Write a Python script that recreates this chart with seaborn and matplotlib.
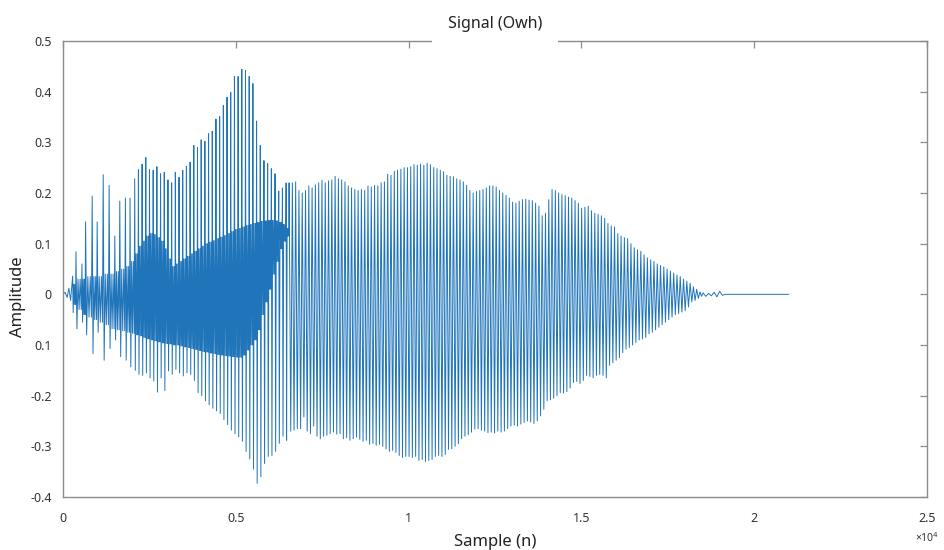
import numpy as np
import pandas as pd
import matplotlib
matplotlib.use("Agg")
import matplotlib.pyplot as plt
import seaborn as sns

# ---------------- data ----------------
# onset: tiny wiggles before the voice starts (sample index, amplitude)
onset_n = [0, 60, 120, 170, 220]
onset_v = [0.0, 0.004, -0.006, 0.012, -0.012]

# segment A: irregular early pitch periods (sample index of each period)
A_n = [279, 375, 548, 653, 845, 989, 1163, 1335, 1499, 1643, 1806, 1940]
A_top = [0.036, 0.084, 0.06, 0.143, 0.194, 0.143, 0.236, 0.215, 0.115, 0.184, 0.19, 0.19]
A_bot = [-0.036, -0.068, -0.055, -0.08, -0.117, -0.075, -0.13, -0.107, -0.09, -0.123, -0.13, -0.143]
A_hi = [0.02, 0.03, 0.03, 0.035, 0.035, 0.035, 0.04, 0.04, 0.045, 0.05, 0.055, 0.065]
A_lo = [-0.02, -0.03, -0.04, -0.045, -0.05, -0.055, -0.06, -0.068, -0.07, -0.072, -0.075, -0.077]

# segment B: periods from sample 2075 to 6456
B_start, B_end = 2075, 6456
B_top = [0.228, 0.246, 0.257, 0.27, 0.246, 0.245, 0.252, 0.238, 0.241, 0.226,
         0.22, 0.241, 0.231, 0.245, 0.253, 0.261, 0.294, 0.29, 0.305, 0.302,
         0.317, 0.322, 0.346, 0.351, 0.373, 0.389, 0.399, 0.43, 0.43, 0.444,
         0.442, 0.43, 0.416, 0.342, 0.294, 0.264, 0.258, 0.248, 0.238, 0.204,
         0.21, 0.22]
B_bot = [-0.15, -0.158, -0.16, -0.155, -0.165, -0.171, -0.193, -0.165, -0.19, -0.151,
         -0.158, -0.148, -0.155, -0.161, -0.155, -0.158, -0.17, -0.194, -0.2, -0.21,
         -0.218, -0.225, -0.23, -0.235, -0.247, -0.257, -0.268, -0.275, -0.281, -0.29,
         -0.31, -0.325, -0.345, -0.373, -0.36, -0.334, -0.32, -0.318, -0.31, -0.294,
         -0.28, -0.288]
B_hi = [0.08, 0.095, 0.105, 0.115, 0.12, 0.118, 0.112, 0.105, 0.09, 0.07,
        0.055, 0.06, 0.065, 0.07, 0.075, 0.08, 0.085, 0.09, 0.095, 0.1,
        0.103, 0.106, 0.11, 0.113, 0.116, 0.12, 0.124, 0.128, 0.13, 0.133,
        0.136, 0.138, 0.14, 0.142, 0.144, 0.145, 0.146, 0.146, 0.145, 0.142,
        0.138, 0.13]
B_lo = [-0.08, -0.082, -0.085, -0.088, -0.09, -0.092, -0.094, -0.096, -0.097, -0.098,
        -0.1, -0.1, -0.102, -0.104, -0.105, -0.107, -0.109, -0.111, -0.113, -0.114,
        -0.116, -0.117, -0.119, -0.12, -0.121, -0.122, -0.123, -0.124, -0.124, -0.12,
        -0.11, -0.1, -0.09, -0.07, -0.04, -0.015, 0.01, 0.04, 0.065, 0.09,
        0.105, 0.115]

# segment C: periods from sample 6542 to 18431
C_start, C_end = 6542, 18431
C_top = [0.22, 0.22, 0.222, 0.205, 0.2, 0.205, 0.214, 0.21, 0.216, 0.22,
         0.225, 0.22, 0.224, 0.226, 0.233, 0.228, 0.226, 0.222, 0.214, 0.21,
         0.207, 0.205, 0.207, 0.205, 0.214, 0.212, 0.215, 0.214, 0.22, 0.222,
         0.237, 0.235, 0.243, 0.245, 0.247, 0.25, 0.25, 0.252, 0.256, 0.255,
         0.257, 0.255, 0.259, 0.256, 0.25, 0.248, 0.245, 0.242, 0.235, 0.233,
         0.232, 0.228, 0.226, 0.222, 0.215, 0.205, 0.2, 0.203, 0.205, 0.207,
         0.21, 0.214, 0.214, 0.212, 0.205, 0.2, 0.195, 0.19, 0.182, 0.18,
         0.184, 0.187, 0.188, 0.186, 0.185, 0.18, 0.174, 0.155, 0.16, 0.187,
         0.207, 0.205, 0.2, 0.197, 0.195, 0.192, 0.19, 0.185, 0.18, 0.17,
         0.172, 0.174, 0.165, 0.16, 0.158, 0.155, 0.15, 0.14, 0.135, 0.133,
         0.12, 0.115, 0.112, 0.11, 0.1, 0.092, 0.088, 0.085, 0.078, 0.072,
         0.068, 0.065, 0.06, 0.057, 0.054, 0.05, 0.046, 0.042, 0.038, 0.035,
         0.03, 0.026, 0.022, 0.015, 0.01, 0.005]
C_bot = [-0.27, -0.268, -0.265, -0.265, -0.242, -0.27, -0.275, -0.26, -0.28, -0.285,
         -0.28, -0.278, -0.275, -0.272, -0.276, -0.275, -0.285, -0.283, -0.288, -0.285,
         -0.282, -0.286, -0.29, -0.288, -0.296, -0.294, -0.298, -0.296, -0.3, -0.305,
         -0.31, -0.308, -0.312, -0.318, -0.322, -0.32, -0.32, -0.322, -0.32, -0.328,
         -0.326, -0.33, -0.328, -0.326, -0.32, -0.318, -0.32, -0.316, -0.306, -0.305,
         -0.3, -0.295, -0.285, -0.28, -0.277, -0.272, -0.266, -0.265, -0.268, -0.27,
         -0.273, -0.272, -0.274, -0.27, -0.272, -0.27, -0.265, -0.26, -0.258, -0.26,
         -0.256, -0.253, -0.25, -0.252, -0.255, -0.25, -0.24, -0.227, -0.21, -0.208,
         -0.205, -0.2, -0.194, -0.195, -0.192, -0.185, -0.174, -0.172, -0.176, -0.17,
         -0.16, -0.162, -0.165, -0.16, -0.158, -0.16, -0.165, -0.14, -0.135, -0.13,
         -0.125, -0.115, -0.108, -0.105, -0.1, -0.095, -0.09, -0.088, -0.085, -0.078,
         -0.075, -0.07, -0.065, -0.06, -0.055, -0.05, -0.045, -0.04, -0.038, -0.035,
         -0.032, -0.025, -0.015, -0.012, -0.008, -0.004]

# decay tail and silence
tail_n = [18520, 18600, 18680, 18760, 18840, 18920, 19000, 19080, 19160, 21000]
tail_v = [0.003, -0.004, 0.002, -0.003, 0.004, -0.005, 0.006, -0.002, 0.0, 0.0]

y_ticks = [0.5, 0.4, 0.3, 0.2, 0.1, 0.0, -0.1, -0.2, -0.3, -0.4]
y_tick_labels = ["0.5", "0.4", "0.3", "0.2", "0.1", "0", "0.1", "-0.2", "-0.3", "-0.4"]
x_ticks = [0, 5000, 10000, 15000, 20000, 25000]
x_tick_labels = ["0", "0.5", "1", "1.5", "2", "2.5"]

# ---------------- build the waveform path ----------------
assert len(B_top) == len(B_bot) == len(B_hi) == len(B_lo)
assert len(C_top) == len(C_bot)

AB_n = list(A_n) + list(np.linspace(B_start, B_end, len(B_top)))
AB_top = A_top + B_top
AB_bot = A_bot + B_bot
AB_hi = A_hi + B_hi
AB_lo = A_lo + B_lo
C_n = list(np.linspace(C_start, C_end, len(C_top)))

xs = list(onset_n)
ys = list(onset_v)
inner_frac = [0.34, 0.52, 0.70, 0.88]
for i in range(len(AB_n)):
    n0 = AB_n[i]
    n1 = AB_n[i + 1] if i + 1 < len(AB_n) else C_n[0]
    d = n1 - n0
    xs += [n0, n0 + 0.16 * d]
    ys += [AB_top[i], AB_bot[i]]
    for k, f in enumerate(inner_frac):
        xs.append(n0 + f * d)
        ys.append(AB_hi[i] if k % 2 == 0 else AB_lo[i])
for i in range(len(C_n)):
    n0 = C_n[i]
    n1 = C_n[i + 1] if i + 1 < len(C_n) else tail_n[0]
    d = n1 - n0
    xs += [n0, n0 + 0.5 * d]
    ys += [C_top[i], C_bot[i]]
xs += tail_n
ys += tail_v

df = pd.DataFrame({"n": xs, "amp": ys})

# ---------------- plot ----------------
sns.set_style("white")
plt.rcParams["font.family"] = ["Noto Sans", "DejaVu Sans"]

fig = plt.figure(figsize=(9.45, 5.5), dpi=100)
ax = fig.add_axes([63 / 945, 1 - 497 / 550, (927 - 63) / 945, (497 - 41) / 550])

sns.lineplot(data=df, x="n", y="amp", sort=False, estimator=None,
             color="#1f74ba", linewidth=0.7, ax=ax)

ax.set_xlim(0, 25000)
ax.set_ylim(-0.4, 0.5)
ax.set_xticks(x_ticks)
ax.set_xticklabels(x_tick_labels)
ax.set_yticks(y_ticks)
ax.set_yticklabels(y_tick_labels)

frame_col = "#8c8c8c"
for s in ax.spines.values():
    s.set_visible(True)
    s.set_color(frame_col)
    s.set_linewidth(1.0)
ax.tick_params(axis="both", direction="in", length=5, width=0.9, color=frame_col,
               labelsize=9, labelcolor="#333333", top=True, right=True)
ax.tick_params(axis="y", pad=8)
ax.tick_params(axis="x", pad=11)

ax.set_xlabel("Sample (n)", fontsize=12, color="#222222", labelpad=6)
ax.set_ylabel("Amplitude", fontsize=12, color="#222222")
ax.yaxis.set_label_coords(-0.043, 0.44)
ax.set_title("Signal (Owh)", fontsize=11.5, color="#222222", pad=9,
             bbox=dict(facecolor="white", edgecolor="none", boxstyle="square,pad=1.0"))
ax.text(1.0, -0.09, "×10$^{4}$", transform=ax.transAxes, fontsize=7.5,
        color="#333333", ha="center", va="center")

fig.savefig("out.png", dpi=100, facecolor="white")
